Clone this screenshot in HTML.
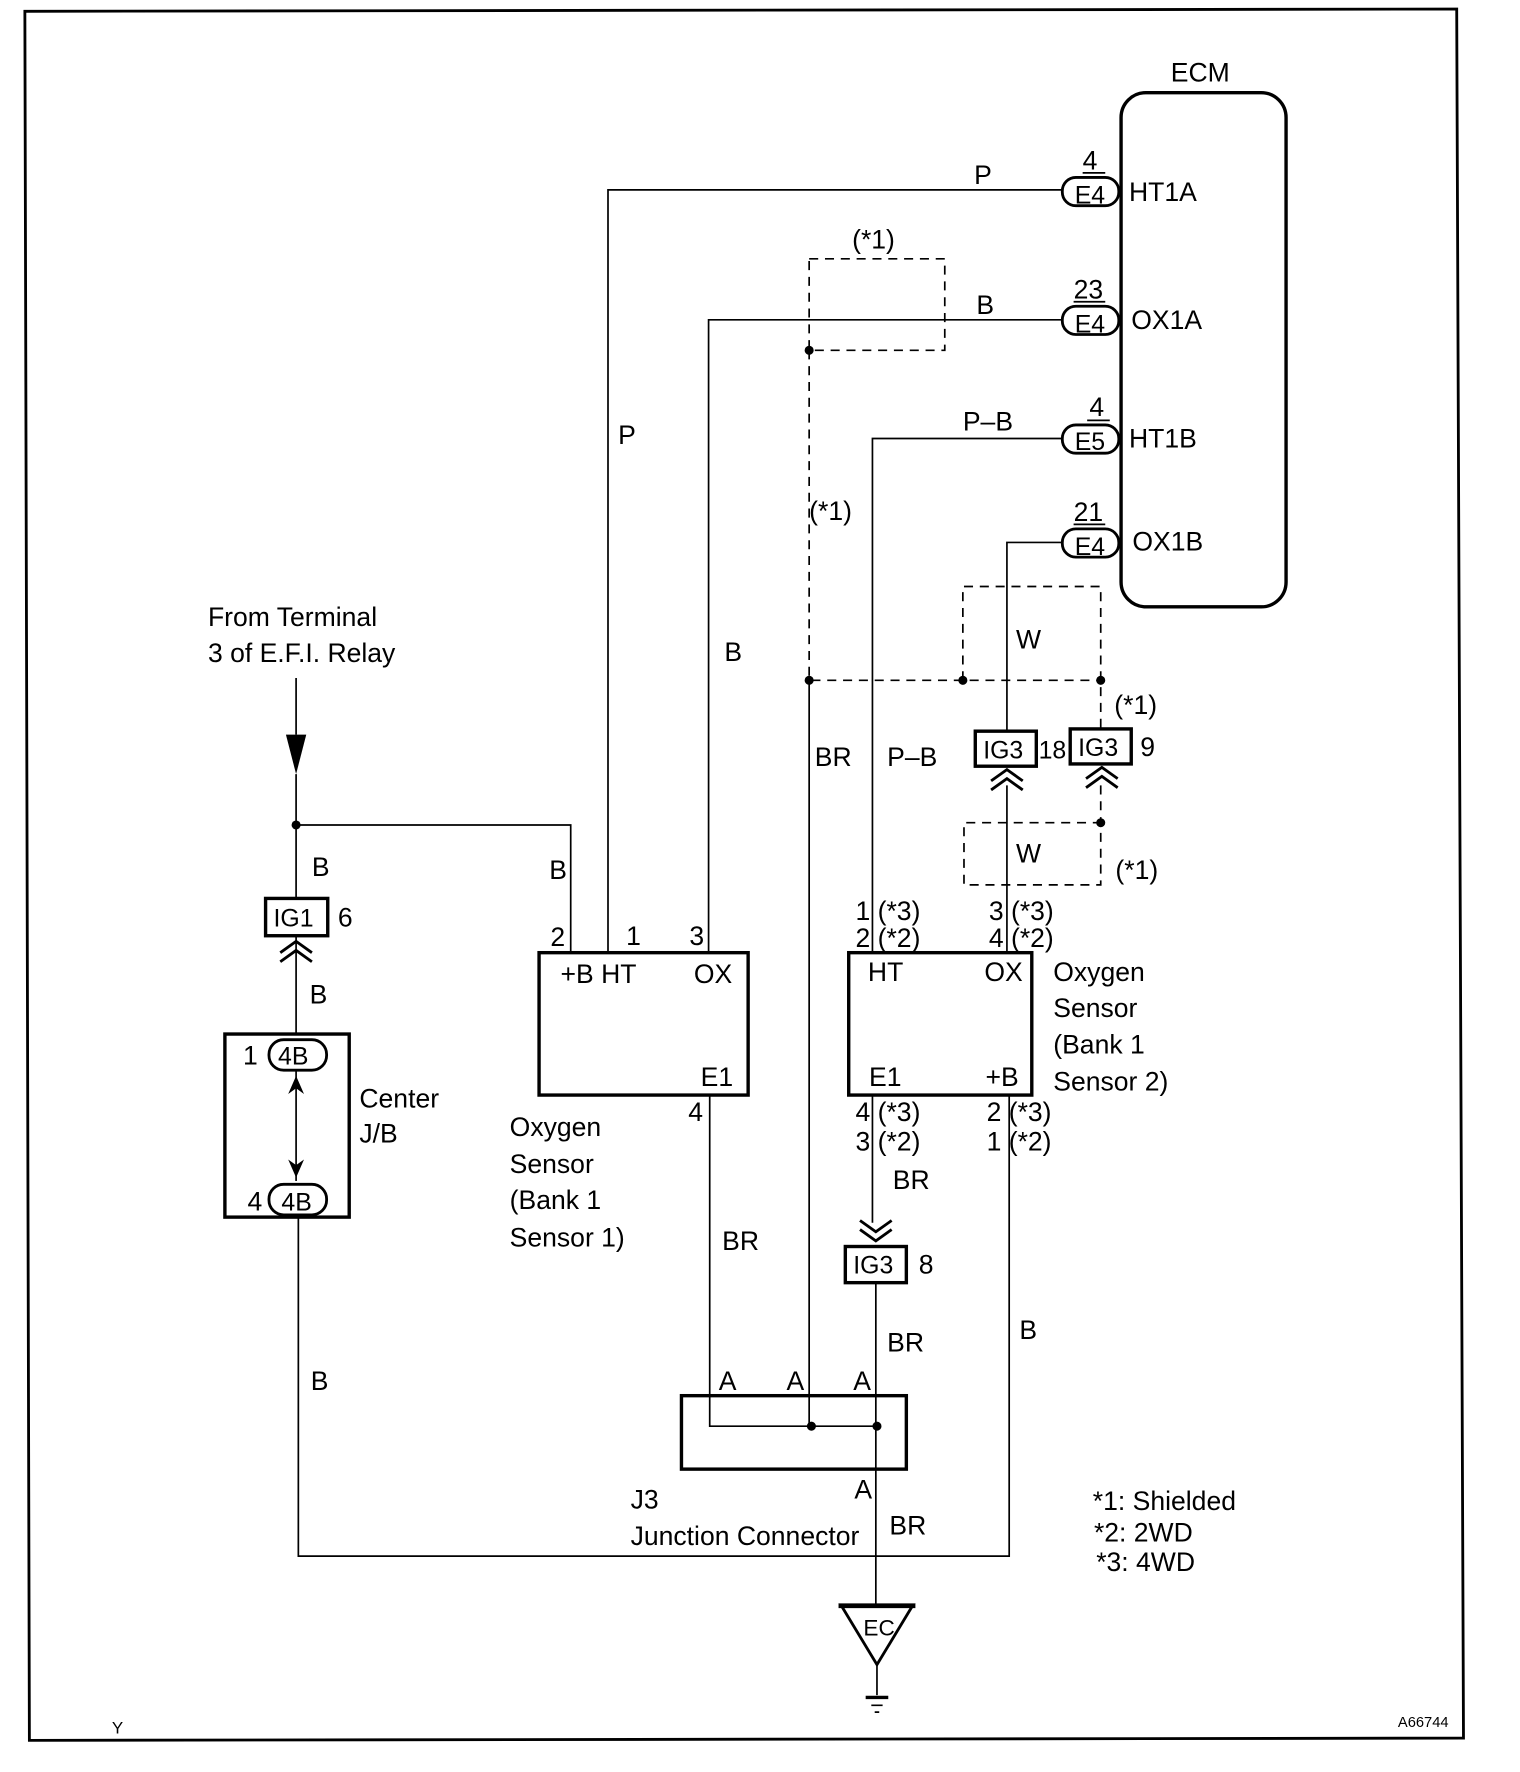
<!DOCTYPE html>
<html><head><meta charset="utf-8"><style>
html,body{margin:0;padding:0;background:#fff}
svg{display:block}
text{font-family:"Liberation Sans",Arial,sans-serif;font-size:23.5px;fill:#000}
text.s{font-size:22px}
</style></head><body>
<svg width="1520" height="1772" viewBox="0 0 1345 1568" xmlns="http://www.w3.org/2000/svg">
<g fill="none" stroke="#000">
<polygon points="22,10 1289,8 1295,1538 26,1540" stroke-width="2.5"/>
<rect x="992" y="82" width="146" height="455" rx="22" stroke-width="3"/>
<rect x="940" y="157" width="50" height="25" rx="12" stroke-width="2.5"/>
<rect x="940" y="271" width="50" height="25" rx="12" stroke-width="2.5"/>
<rect x="940" y="376" width="50" height="25" rx="12" stroke-width="2.5"/>
<rect x="940" y="468" width="50" height="25" rx="12" stroke-width="2.5"/>
<path d="M958,153 H978 M950,267 H978 M962,372 H982 M950,464 H978" stroke-width="1.5"/>
<g stroke-width="1.5">
<path d="M940,168 H538 V843"/>
<path d="M940,283 H627 V843"/>
<path d="M940,388 H772 V843"/>
<path d="M940,480 H891 V648"/>
<path d="M891,695 V843"/>
<path d="M716,602 V1262"/>
<path d="M262,600 V650 M262,685 V795"/>
<path d="M262,730 H505 V843"/>
<path d="M262,828 V915"/>
<path d="M264,1077 V1377 H893 V969"/>
<path d="M628,969 V1262 H776"/>
<path d="M772,969 V1082 M775,1135 V1420"/>
<path d="M776,1473 V1500"/>
<path d="M262,948 V1045"/>
</g>
<g stroke-width="1.5" stroke-dasharray="8,6">
<rect x="716" y="229" width="120" height="81"/>
<path d="M716,310 V602 H974"/>
<path d="M852,602 V519 H974 V645"/>
<path d="M974,695 V783 H853 V728 H974"/>
</g>
<rect x="863" y="647" width="54" height="31" stroke-width="3"/>
<rect x="947" y="645" width="54" height="31" stroke-width="3"/>
<rect x="235" y="795" width="55" height="33" stroke-width="3"/>
<rect x="748" y="1103" width="54" height="32" stroke-width="3"/>
<path d="M877,691 L891,681 L905,691 M877,699 L891,689 L905,699" stroke-width="2.5"/>
<path d="M961,689 L975,679 L989,689 M961,697 L975,687 L989,697" stroke-width="2.5"/>
<path d="M248,843 L262,833 L276,843 M248,851 L262,841 L276,851" stroke-width="2.5"/>
<path d="M761,1080 L775,1090 L789,1080 M761,1088 L775,1098 L789,1088" stroke-width="2.5"/>
<rect x="199" y="915" width="110" height="162" stroke-width="3"/>
<rect x="238" y="920" width="51" height="27" rx="13" stroke-width="2.5"/>
<rect x="238" y="1048" width="51" height="27" rx="13" stroke-width="2.5"/>
<rect x="477" y="843" width="185" height="126" stroke-width="3"/>
<rect x="751" y="843" width="162" height="126" stroke-width="3"/>
<rect x="603" y="1235" width="199" height="65" stroke-width="3"/>
<polygon points="744,1420 808,1420 776,1473" stroke-width="2.5"/>
<path d="M742,1421 H810" stroke-width="4"/>
<path d="M766,1502 H786" stroke-width="3"/>
<path d="M771,1509 H781 M774,1515 H778" stroke-width="1.5"/>
</g>
<g fill="#000">
<polygon points="253,650 271,650 262,685"/>
<polygon points="255,968 262,952 269,968 262,963"/>
<polygon points="255,1026 262,1042 269,1026 262,1031"/>
<circle cx="716" cy="310" r="4"/><circle cx="716" cy="602" r="4"/>
<circle cx="852" cy="602" r="4"/><circle cx="974" cy="602" r="4"/>
<circle cx="974" cy="728" r="4"/><circle cx="262" cy="730" r="4"/>
<circle cx="718" cy="1262" r="4"/><circle cx="776" cy="1262" r="4"/>
</g>
<text x="1036" y="72">ECM</text>
<text x="958" y="150">4</text><text class="s" x="951" y="180">E4</text><text x="999" y="178">HT1A</text>
<text x="950" y="264">23</text><text class="s" x="951" y="294">E4</text><text x="1001" y="291">OX1A</text>
<text x="964" y="368">4</text><text class="s" x="951" y="398">E5</text><text x="999" y="396">HT1B</text>
<text x="950" y="461">21</text><text class="s" x="951" y="491">E4</text><text x="1002" y="487">OX1B</text>
<text x="862" y="163">P</text><text x="864" y="278">B</text><text x="852" y="381">P–B</text>
<text x="754" y="220">(*1)</text><text x="716" y="460">(*1)</text>
<text x="547" y="393">P</text><text x="641" y="585">B</text>
<text x="899" y="574">W</text><text x="899" y="763">W</text>
<text x="986" y="632">(*1)</text><text x="987" y="778">(*1)</text>
<text x="721" y="678">BR</text><text x="785" y="678">P–B</text>
<text class="s" x="870" y="671">IG3</text><text class="s" x="919" y="671">18</text>
<text class="s" x="954" y="669">IG3</text><text x="1009" y="669">9</text>
<text x="184" y="554">From Terminal</text><text x="184" y="586">3 of E.F.I. Relay</text>
<text x="276" y="775">B</text><text x="486" y="778">B</text>
<text class="s" x="242" y="820">IG1</text><text x="299" y="820">6</text>
<text x="274" y="888">B</text>
<text x="215" y="942">1</text><text class="s" x="246" y="942">4B</text>
<text x="219" y="1071">4</text><text class="s" x="249" y="1071">4B</text>
<text x="318" y="980">Center</text><text x="318" y="1011">J/B</text>
<text x="487" y="837">2</text><text x="554" y="836">1</text><text x="610" y="836">3</text>
<text x="496" y="870">+B HT</text><text x="614" y="870">OX</text><text x="620" y="961">E1</text>
<text x="609" y="992">4</text>
<text x="451" y="1005">Oxygen</text><text x="451" y="1038">Sensor</text>
<text x="451" y="1070">(Bank 1</text><text x="451" y="1103">Sensor 1)</text>
<text x="757" y="814">1 (*3)</text><text x="757" y="838">2 (*2)</text>
<text x="875" y="814">3 (*3)</text><text x="875" y="838">4 (*2)</text>
<text x="768" y="868">HT</text><text x="871" y="868">OX</text>
<text x="769" y="961">E1</text><text x="872" y="961">+B</text>
<text x="757" y="992">4 (*3)</text><text x="757" y="1018">3 (*2)</text>
<text x="873" y="992">2 (*3)</text><text x="873" y="1018">1 (*2)</text>
<text x="932" y="868">Oxygen</text><text x="932" y="900">Sensor</text>
<text x="932" y="932">(Bank 1</text><text x="932" y="965">Sensor 2)</text>
<text x="790" y="1052">BR</text>
<text class="s" x="755" y="1127">IG3</text><text x="813" y="1127">8</text>
<text x="639" y="1106">BR</text><text x="785" y="1196">BR</text>
<text x="902" y="1185">B</text><text x="275" y="1230">B</text>
<text x="636" y="1230">A</text><text x="696" y="1230">A</text><text x="755" y="1230">A</text>
<text x="756" y="1326">A</text><text x="787" y="1358">BR</text>
<text x="558" y="1335">J3</text><text x="558" y="1367">Junction Connector</text>
<text x="764" y="1447" style="font-size:20px">EC</text>
<text x="967" y="1336">*1: Shielded</text><text x="968" y="1364">*2: 2WD</text><text x="970" y="1390">*3: 4WD</text>
<text x="99" y="1534" style="font-size:15px">Y</text>
<text x="1237" y="1528" style="font-size:13px">A66744</text>
</svg>
</body></html>
